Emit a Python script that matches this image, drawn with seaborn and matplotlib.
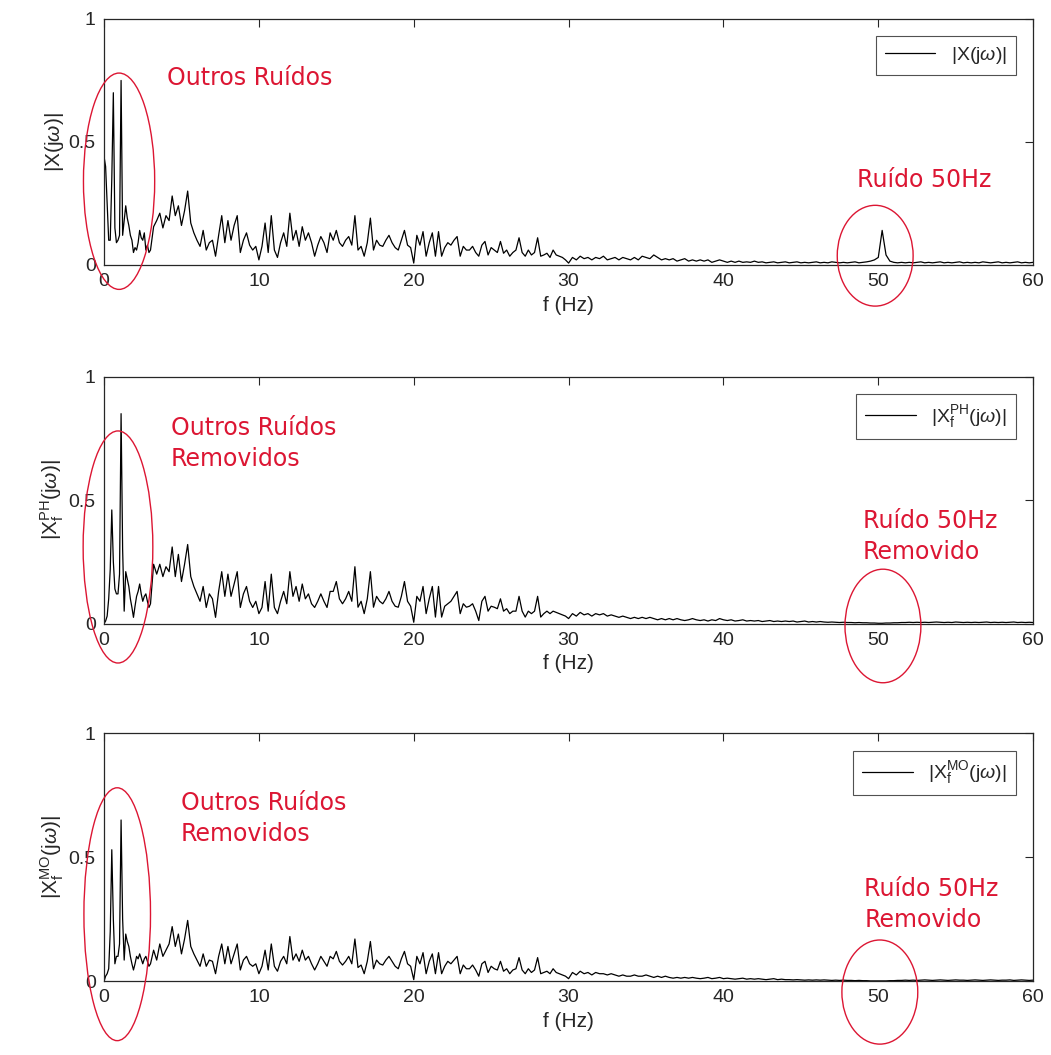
import matplotlib
matplotlib.use("Agg")
import matplotlib.pyplot as plt
from matplotlib.patches import Ellipse
import numpy as np
import seaborn as sns

# ---- spectrum magnitudes ----
# 0 - 3 Hz (0.1 Hz step), 3.2 - 30 Hz (0.2 Hz step), 30.25 - 60 Hz (0.25 Hz step)

x_low = [0.44, 0.40, 0.25, 0.10, 0.10, 0.35, 0.70, 0.15, 0.09, 0.10,
         0.12, 0.75, 0.12, 0.18, 0.24, 0.19, 0.16, 0.12, 0.10, 0.05,
         0.07, 0.06, 0.09, 0.14, 0.11, 0.10, 0.13, 0.06, 0.08, 0.05,
         0.06]
x_mid = [0.155, 0.18, 0.21, 0.15, 0.20, 0.18, 0.28, 0.20, 0.24, 0.16,
         0.22, 0.30, 0.17, 0.13, 0.10, 0.075, 0.14, 0.06, 0.09, 0.10,
         0.035, 0.12, 0.20, 0.09, 0.18, 0.10, 0.16, 0.20, 0.05, 0.10,
         0.13, 0.08, 0.06, 0.075, 0.02, 0.075, 0.17, 0.05, 0.20, 0.06,
         0.03, 0.09, 0.13, 0.075, 0.21, 0.10, 0.14, 0.075, 0.155, 0.10,
         0.13, 0.09, 0.035, 0.08, 0.115, 0.09, 0.05, 0.13, 0.10, 0.14,
         0.09, 0.075, 0.10, 0.115, 0.08, 0.20, 0.06, 0.075, 0.035, 0.09,
         0.19, 0.06, 0.10, 0.08, 0.075, 0.10, 0.12, 0.09, 0.07, 0.06,
         0.10, 0.14, 0.08, 0.07, 0.007, 0.12, 0.08, 0.135, 0.035, 0.09,
         0.13, 0.035, 0.135, 0.035, 0.07, 0.09, 0.08, 0.10, 0.115, 0.035,
         0.075, 0.06, 0.06, 0.075, 0.05, 0.035, 0.08, 0.095, 0.04, 0.07,
         0.06, 0.05, 0.095, 0.047, 0.06, 0.035, 0.05, 0.06, 0.11, 0.05,
         0.035, 0.06, 0.04, 0.05, 0.11, 0.035, 0.04, 0.047, 0.03, 0.06,
         0.04, 0.035, 0.03, 0.02, 0.007]
x_tail = [0.03, 0.02, 0.035, 0.025, 0.03, 0.02, 0.03, 0.025,
          0.035, 0.02, 0.025, 0.03, 0.02, 0.03, 0.025, 0.02,
          0.03, 0.02, 0.035, 0.03, 0.025, 0.04, 0.03, 0.02,
          0.025, 0.02, 0.025, 0.015, 0.02, 0.025, 0.015, 0.02,
          0.015, 0.02, 0.015, 0.02, 0.01, 0.015, 0.02, 0.015,
          0.01, 0.015, 0.01, 0.015, 0.01, 0.012, 0.01, 0.015,
          0.01, 0.012, 0.008, 0.01, 0.012, 0.008, 0.01, 0.012,
          0.008, 0.01, 0.012, 0.008, 0.01, 0.008, 0.01, 0.012,
          0.008, 0.01, 0.008, 0.012, 0.01, 0.008, 0.01, 0.008,
          0.01, 0.012, 0.008, 0.01, 0.012, 0.015, 0.02, 0.03,
          0.14, 0.04, 0.015, 0.01, 0.008, 0.01, 0.008, 0.01,
          0.008, 0.01, 0.012, 0.008, 0.01, 0.008, 0.01, 0.012,
          0.008, 0.01, 0.008, 0.01, 0.012, 0.008, 0.01, 0.008,
          0.01, 0.008, 0.012, 0.01, 0.008, 0.01, 0.012, 0.008,
          0.01, 0.008, 0.01, 0.012, 0.008, 0.01, 0.008, 0.01]

ph_low = [0.0, 0.01, 0.03, 0.10, 0.22, 0.46, 0.25, 0.14, 0.12, 0.12,
          0.20, 0.85, 0.30, 0.05, 0.21, 0.18, 0.15, 0.10, 0.065, 0.025,
          0.07, 0.11, 0.13, 0.16, 0.12, 0.09, 0.11, 0.12, 0.09, 0.065,
          0.08]
ph_mid = [0.24, 0.20, 0.24, 0.19, 0.23, 0.21, 0.31, 0.19, 0.28, 0.17,
          0.24, 0.32, 0.19, 0.15, 0.12, 0.09, 0.15, 0.065, 0.12, 0.10,
          0.025, 0.13, 0.21, 0.11, 0.20, 0.11, 0.16, 0.21, 0.065, 0.12,
          0.15, 0.09, 0.065, 0.09, 0.04, 0.065, 0.17, 0.05, 0.20, 0.065,
          0.04, 0.09, 0.13, 0.08, 0.21, 0.11, 0.15, 0.09, 0.16, 0.10,
          0.12, 0.08, 0.065, 0.09, 0.12, 0.09, 0.065, 0.13, 0.13, 0.17,
          0.10, 0.08, 0.10, 0.13, 0.09, 0.23, 0.066, 0.09, 0.04, 0.10,
          0.21, 0.066, 0.11, 0.09, 0.08, 0.10, 0.13, 0.09, 0.07, 0.066,
          0.11, 0.17, 0.09, 0.07, 0.005, 0.11, 0.09, 0.15, 0.04, 0.10,
          0.15, 0.026, 0.15, 0.026, 0.07, 0.08, 0.09, 0.11, 0.13, 0.04,
          0.08, 0.066, 0.07, 0.08, 0.05, 0.012, 0.09, 0.11, 0.05, 0.07,
          0.066, 0.06, 0.10, 0.05, 0.06, 0.04, 0.05, 0.05, 0.11, 0.05,
          0.026, 0.05, 0.04, 0.05, 0.11, 0.026, 0.04, 0.05, 0.04, 0.05,
          0.045, 0.04, 0.035, 0.03, 0.02]
ph_tail = [0.04, 0.03, 0.045, 0.035, 0.04, 0.03, 0.04, 0.035,
           0.04, 0.03, 0.035, 0.03, 0.025, 0.03, 0.025, 0.02,
           0.025, 0.02, 0.025, 0.02, 0.025, 0.02, 0.015, 0.02,
           0.015, 0.02, 0.015, 0.02, 0.015, 0.012, 0.015, 0.02,
           0.015, 0.012, 0.015, 0.01, 0.015, 0.012, 0.02, 0.015,
           0.012, 0.015, 0.01, 0.012, 0.015, 0.01, 0.012, 0.01,
           0.012, 0.008, 0.01, 0.012, 0.008, 0.01, 0.008, 0.01,
           0.008, 0.01, 0.006, 0.008, 0.01, 0.006, 0.008, 0.006,
           0.008, 0.006, 0.005, 0.006, 0.005, 0.004, 0.005, 0.004,
           0.004, 0.003, 0.004, 0.003, 0.003, 0.002, 0.002, 0.001,
           0.001, 0.002, 0.002, 0.003, 0.003, 0.004, 0.004, 0.005,
           0.004, 0.005, 0.004, 0.005, 0.004, 0.005, 0.006, 0.005,
           0.004, 0.005, 0.004, 0.006, 0.005, 0.004, 0.005, 0.004,
           0.005, 0.004, 0.005, 0.006, 0.004, 0.005, 0.004, 0.005,
           0.004, 0.005, 0.006, 0.004, 0.005, 0.004, 0.005, 0.004]

mo_low = [0.0, 0.02, 0.03, 0.05, 0.20, 0.53, 0.25, 0.07, 0.10, 0.10,
          0.15, 0.65, 0.25, 0.085, 0.19, 0.16, 0.14, 0.10, 0.07, 0.045,
          0.07, 0.10, 0.09, 0.11, 0.09, 0.07, 0.09, 0.10, 0.08, 0.06,
          0.07]
mo_mid = [0.125, 0.085, 0.15, 0.10, 0.125, 0.15, 0.22, 0.14, 0.19, 0.11,
          0.17, 0.245, 0.14, 0.11, 0.085, 0.06, 0.11, 0.06, 0.085, 0.08,
          0.03, 0.10, 0.15, 0.07, 0.14, 0.07, 0.11, 0.15, 0.045, 0.085,
          0.10, 0.07, 0.06, 0.07, 0.03, 0.06, 0.125, 0.045, 0.15, 0.06,
          0.04, 0.08, 0.10, 0.07, 0.18, 0.085, 0.11, 0.08, 0.125, 0.085,
          0.10, 0.07, 0.045, 0.07, 0.10, 0.08, 0.06, 0.10, 0.09, 0.12,
          0.08, 0.065, 0.08, 0.10, 0.07, 0.17, 0.055, 0.065, 0.03, 0.08,
          0.16, 0.05, 0.085, 0.07, 0.065, 0.085, 0.10, 0.08, 0.06, 0.05,
          0.09, 0.12, 0.07, 0.06, 0.006, 0.10, 0.07, 0.115, 0.03, 0.08,
          0.11, 0.03, 0.115, 0.03, 0.06, 0.08, 0.07, 0.085, 0.10, 0.03,
          0.065, 0.05, 0.05, 0.065, 0.045, 0.02, 0.07, 0.08, 0.035, 0.06,
          0.05, 0.045, 0.08, 0.04, 0.05, 0.03, 0.045, 0.05, 0.095, 0.045,
          0.03, 0.05, 0.035, 0.045, 0.095, 0.03, 0.035, 0.04, 0.03, 0.05,
          0.035, 0.03, 0.025, 0.02, 0.01]
mo_tail = [0.035, 0.025, 0.04, 0.03, 0.035, 0.025, 0.035, 0.03,
           0.03, 0.025, 0.03, 0.025, 0.02, 0.025, 0.02, 0.02,
           0.025, 0.02, 0.02, 0.025, 0.02, 0.015, 0.02, 0.015,
           0.02, 0.015, 0.012, 0.015, 0.012, 0.015, 0.012, 0.015,
           0.012, 0.01, 0.012, 0.015, 0.01, 0.012, 0.015, 0.01,
           0.012, 0.01, 0.008, 0.01, 0.012, 0.008, 0.01, 0.008,
           0.01, 0.008, 0.006, 0.008, 0.01, 0.006, 0.008, 0.006,
           0.006, 0.005, 0.006, 0.005, 0.004, 0.005, 0.004, 0.005,
           0.004, 0.005, 0.004, 0.003, 0.004, 0.003, 0.004, 0.003,
           0.003, 0.002, 0.003, 0.002, 0.002, 0.001, 0.001, 0.001,
           0.001, 0.001, 0.002, 0.002, 0.003, 0.003, 0.004, 0.003,
           0.004, 0.003, 0.004, 0.005, 0.004, 0.003, 0.004, 0.005,
           0.004, 0.003, 0.004, 0.005, 0.004, 0.004, 0.003, 0.004,
           0.005, 0.004, 0.003, 0.004, 0.005, 0.004, 0.003, 0.004,
           0.004, 0.005, 0.003, 0.004, 0.005, 0.004, 0.003, 0.004]

y_labels = [r"|X(j$\omega$)|",
            r"|X$_{\rm f}^{\rm PH}$(j$\omega$)|",
            r"|X$_{\rm f}^{\rm MO}$(j$\omega$)|"]
left_notes = ["Outros Ruídos", "Outros Ruídos\nRemovidos", "Outros Ruídos\nRemovidos"]
right_notes = ["Ruído 50Hz", "Ruído 50Hz\nRemovido", "Ruído 50Hz\nRemovido"]


def spectrum(low, mid, tail):
    f = np.concatenate([0.1 * np.arange(len(low)),
                        3.2 + 0.2 * np.arange(len(mid)),
                        30.25 + 0.25 * np.arange(len(tail))])
    return f, np.array(low + mid + tail)


series = [spectrum(x_low, x_mid, x_tail),
          spectrum(ph_low, ph_mid, ph_tail),
          spectrum(mo_low, mo_mid, mo_tail)]

sns.set_style("white")
plt.rcParams["font.family"] = ["Liberation Sans", "DejaVu Sans"]
plt.rcParams["mathtext.fontset"] = "custom"
plt.rcParams["mathtext.rm"] = "Liberation Sans"
plt.rcParams["mathtext.it"] = "Liberation Sans:italic"

axis_col = "#262626"
red = "#dc1633"

fig = plt.figure(figsize=(10.51, 10.55), dpi=100)
boxes = [[0.099, 0.749, 0.884, 0.233],
         [0.099, 0.409, 0.884, 0.234],
         [0.099, 0.070, 0.884, 0.235]]

# ellipse / text placement in data units per panel
left_ell = [(0.97, 0.34, 4.6, 0.88), (0.9, 0.31, 4.5, 0.94), (0.85, 0.27, 4.3, 1.02)]
right_ell = [(49.8, 0.037, 4.9, 0.41), (50.3, -0.01, 4.9, 0.46), (50.1, -0.044, 4.9, 0.42)]
left_txt = [(4.05, 0.76), (4.3, 0.73), (4.95, 0.655)]
right_txt = [(48.6, 0.345), (49.0, 0.352), (49.1, 0.31)]

for i, (f, mag) in enumerate(series):
    ax = fig.add_axes(boxes[i])
    sns.lineplot(x=f, y=mag, ax=ax, color="black", linewidth=0.9,
                 label=y_labels[i], estimator=None, sort=False)
    ax.set_xlim(0, 60)
    ax.set_ylim(0, 1)
    ax.set_xticks([0, 10, 20, 30, 40, 50, 60])
    ax.set_yticks([0, 0.5, 1])
    ax.set_yticklabels(["0", "0.5", "1"])
    ax.tick_params(direction="in", top=True, right=True, length=6,
                   width=0.8, labelsize=14, colors=axis_col, pad=6)
    for s in ax.spines.values():
        s.set_color(axis_col)
        s.set_linewidth(0.9)
    ax.set_xlabel("f (Hz)", fontsize=15, color=axis_col, labelpad=4)
    ax.set_ylabel(y_labels[i], fontsize=15, color=axis_col, labelpad=2)

    leg = ax.legend(loc="upper right", fontsize=14, frameon=True, fancybox=False,
                    handlelength=2.6, borderpad=0.45, borderaxespad=0.9)
    leg.get_frame().set_edgecolor(axis_col)
    leg.get_frame().set_linewidth(0.8)

    cx, cy, w, h = left_ell[i]
    ax.add_patch(Ellipse((cx, cy), w, h, fill=False, edgecolor=red,
                         linewidth=1.0, clip_on=False, zorder=5))
    cx, cy, w, h = right_ell[i]
    ax.add_patch(Ellipse((cx, cy), w, h, fill=False, edgecolor=red,
                         linewidth=1.0, clip_on=False, zorder=5))

    tx, ty = left_txt[i]
    ax.text(tx, ty, left_notes[i], color=red, fontsize=17, family="DejaVu Sans",
            va="center", ha="left", linespacing=1.35)
    tx, ty = right_txt[i]
    ax.text(tx, ty, right_notes[i], color=red, fontsize=17, family="DejaVu Sans",
            va="center", ha="left", linespacing=1.35)

fig.savefig("out.png", dpi=100)
